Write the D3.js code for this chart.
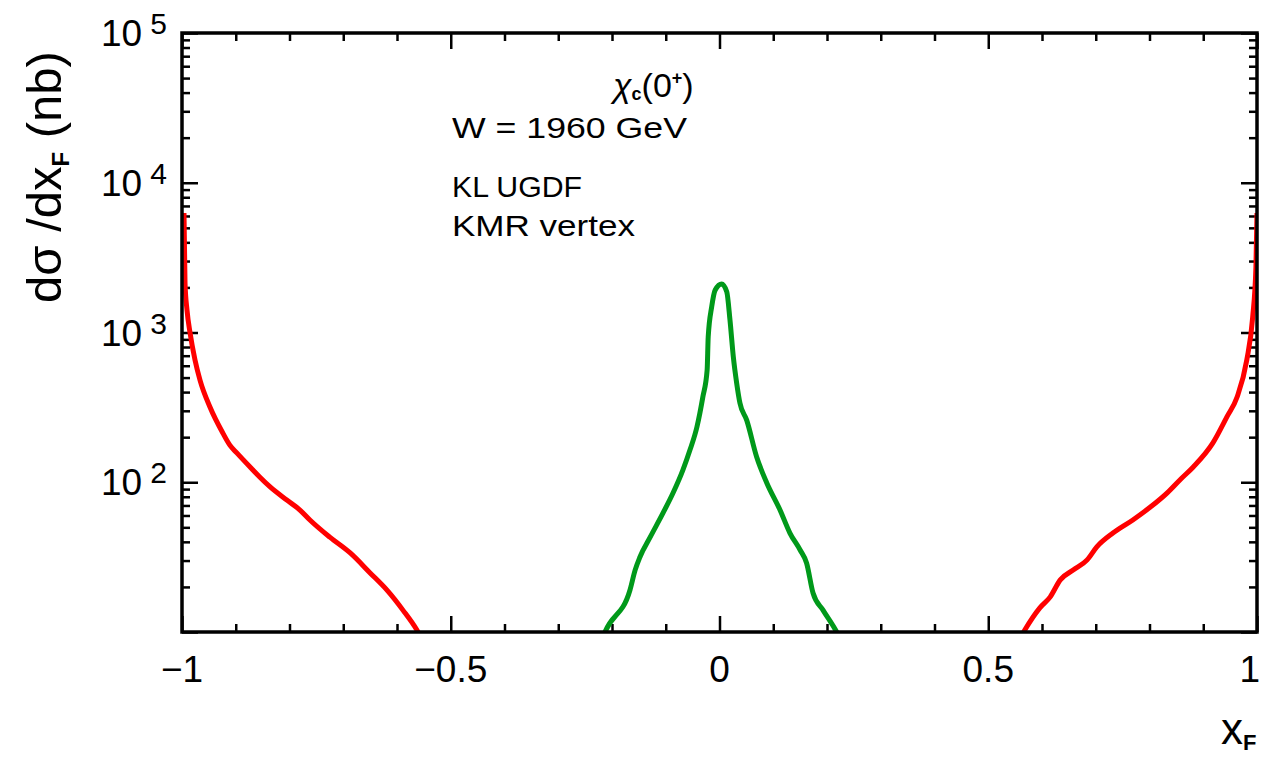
<!DOCTYPE html>
<html>
<head>
<meta charset="utf-8">
<script src="https://cdn.jsdelivr.net/npm/d3@7"></script>
<style>
  body { margin: 0; background: #fff; }
  text { font-family: "Liberation Sans", Arial, Helvetica, sans-serif; fill: #000; }
</style>
</head>
<body>
<svg id="chart" width="1261" height="758"></svg>
<script>
// Axis ticks
const xMajorTicks = [-1, -0.5, 0, 0.5, 1];
const xTickLabels = ["\u22121", "\u22120.5", "0", "0.5", "1"];
const yDecadeExponents = [1, 2, 3, 4, 5];
const yLabelExponents = [2, 3, 4, 5];

// Red curves: forward/backward x_F regions (nb)
const redLeftX = [-0.9963, -0.9944, -0.9907, -0.985, -0.9758, -0.9665, -0.948, -0.924, -0.911, -0.898,
  -0.873, -0.855, -0.836, -0.805, -0.780, -0.762, -0.725, -0.687, -0.650, -0.619, -0.589, -0.563, -0.556];
const redLeftY = [6280, 2140, 1413, 993, 655, 481, 318, 213, 177, 157,
  126, 108, 93, 76, 65, 56, 43, 33.7, 24.8, 19.1, 14.0, 10.3, 9.3];

const redRightX = [0.561, 0.568, 0.596, 0.615, 0.634, 0.658, 0.684, 0.702, 0.732, 0.769,
  0.801, 0.833, 0.857, 0.881, 0.918, 0.944, 0.963, 0.981, 0.992, 0.998, 1.0];
const redRightY = [9.3, 10.3, 14.5, 17.1, 22.3, 25.9, 30.3, 37, 45.8, 56,
  68, 85, 104, 126, 183, 273, 371, 655, 1270, 2735, 6280];

// Green curve: central region
const greenX = [-0.216, -0.213, -0.1665, -0.157, -0.148, -0.129, -0.105, -0.0865, -0.068, -0.055,
  -0.042, -0.031, -0.023, -0.021, -0.0145, -0.008, 0.004, 0.0135, 0.0195, 0.0257,
  0.032, 0.038, 0.0506, 0.069, 0.088, 0.1126, 0.131, 0.150, 0.162, 0.174,
  0.1926, 0.218, 0.222];
const greenY = [9.4, 10, 19.1, 25.9, 31.7, 43, 62.4, 84.7, 121, 164,
  234, 371, 562, 934, 1486, 1923, 2109, 1871, 1211, 689,
  458, 338, 260, 148, 98.9, 65.3, 45.8, 35.3, 28.9, 18.2,
  14.0, 10, 9.4];

const svg = d3.select("#chart");
const L = 182, R = 1257, T = 33, B = 632;

const x = d3.scaleLinear().domain([-1, 1]).range([L, R]);
const y = d3.scaleLog().domain([10, 1e5]).range([B, T]);

// Tick sets
const xMinor = d3.range(-10, 11).map(d => d / 10).filter(d => Math.abs(d * 2 - Math.round(d * 2)) > 1e-6);
const yMajor = yDecadeExponents.map(e => Math.pow(10, e));
const yMinor = [];
yDecadeExponents.slice(0, -1).forEach(e => {
  for (let m = 2; m <= 9; m++) yMinor.push(m * Math.pow(10, e));
});

function tickAxis(axis, tx, ty) {
  const g = svg.append("g").attr("transform", `translate(${tx},${ty})`).call(axis);
  g.select(".domain").remove();
  g.selectAll(".tick line").attr("stroke", "#000").attr("stroke-width", 2.5);
  g.selectAll(".tick text").remove();
  return g;
}

// Inward ticks on all four sides
tickAxis(d3.axisBottom(x).tickValues(xMajorTicks).tickSize(-16), 0, B);
tickAxis(d3.axisBottom(x).tickValues(xMinor).tickSize(-8), 0, B);
tickAxis(d3.axisTop(x).tickValues(xMajorTicks).tickSize(-16), 0, T);
tickAxis(d3.axisTop(x).tickValues(xMinor).tickSize(-8), 0, T);
tickAxis(d3.axisLeft(y).tickValues(yMajor).tickSize(-16), L, 0);
tickAxis(d3.axisLeft(y).tickValues(yMinor).tickSize(-8), L, 0);
tickAxis(d3.axisRight(y).tickValues(yMajor).tickSize(-16), R, 0);
tickAxis(d3.axisRight(y).tickValues(yMinor).tickSize(-8), R, 0);

// Curves
svg.append("clipPath").attr("id", "plotClip")
  .append("rect").attr("x", L).attr("y", T).attr("width", R - L).attr("height", B - T);

const line = d3.line().x(d => x(d[0])).y(d => y(d[1])).curve(d3.curveMonotoneX);
const plot = svg.append("g").attr("clip-path", "url(#plotClip)");

function drawCurve(xs, ys, color) {
  plot.append("path")
    .datum(xs.map((v, i) => [v, ys[i]]))
    .attr("fill", "none")
    .attr("stroke", color)
    .attr("stroke-width", 5)
    .attr("stroke-linejoin", "round")
    .attr("d", line);
}
drawCurve(redLeftX, redLeftY, "#ff0000");
drawCurve(redRightX, redRightY, "#ff0000");
drawCurve(greenX, greenY, "#00991a");

// Frame
svg.append("rect")
  .attr("x", L).attr("y", T).attr("width", R - L).attr("height", B - T)
  .attr("fill", "none").attr("stroke", "#000").attr("stroke-width", 3.5);

// X tick labels (last one kept inside the page edge)
svg.append("g").selectAll("text").data(xMajorTicks).join("text")
  .attr("x", (d, i) => i === xMajorTicks.length - 1 ? 1260 : x(d))
  .attr("y", 682)
  .attr("text-anchor", (d, i) => i === xMajorTicks.length - 1 ? "end" : "middle")
  .attr("font-size", 37)
  .text((d, i) => xTickLabels[i]);

// Y tick labels: 10^n
const yl = svg.append("g").selectAll("text").data(yLabelExponents).join("text")
  .attr("x", 101)
  .attr("y", e => y(Math.pow(10, e)) + 13)
  .attr("font-size", 37);
yl.append("tspan").text("10");
yl.append("tspan").attr("dx", 8).attr("dy", -12).attr("font-size", 30).text(e => e);

// Y axis title
const yt = svg.append("text")
  .attr("transform", "translate(61,177) rotate(-90)")
  .attr("text-anchor", "middle")
  .attr("font-size", 49);
yt.append("tspan").text("d\u03c3 /dx");
yt.append("tspan").attr("font-size", 24).attr("font-weight", "bold").attr("dy", 8).text("F");
yt.append("tspan").attr("dy", -8).text(" (nb)");

// X axis title
const xt = svg.append("text").attr("x", 1221).attr("y", 744).attr("font-size", 44);
xt.append("tspan").text("x");
xt.append("tspan").attr("font-size", 22).attr("font-weight", "bold").attr("dy", 6).text("F");

// Annotations
const chi = svg.append("text").attr("x", 613).attr("y", 97).attr("font-size", 34);
chi.append("tspan").attr("font-style", "italic").text("\u03c7");
chi.append("tspan").attr("font-size", 18).attr("font-weight", "bold").attr("dy", 3).text("c");
chi.append("tspan").attr("dy", -3).text("(0");
chi.append("tspan").attr("font-size", 18).attr("font-weight", "bold").attr("dy", -13).text("+");
chi.append("tspan").attr("dy", 13).text(")");

const notes = [
  { t: "W = 1960 GeV", y: 138, w: 235 },
  { t: "KL UGDF", y: 197, w: 130 },
  { t: "KMR vertex", y: 236, w: 183 }
];
svg.append("g").selectAll("text").data(notes).join("text")
  .attr("x", 452)
  .attr("y", d => d.y)
  .attr("font-size", 29)
  .attr("textLength", d => d.w)
  .attr("lengthAdjust", "spacingAndGlyphs")
  .text(d => d.t);
</script>
</body>
</html>
